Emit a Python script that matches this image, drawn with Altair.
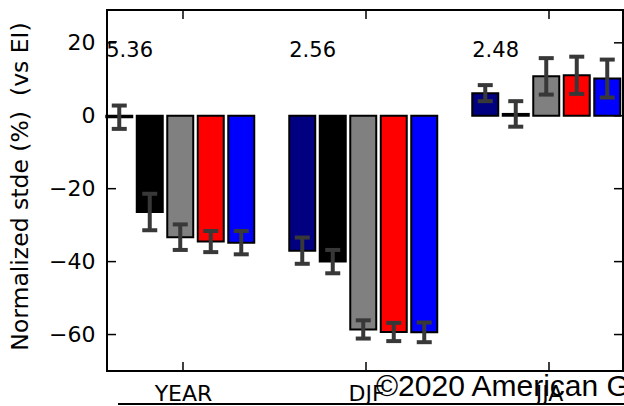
import altair as alt
import pandas as pd

# Seasons (groups) and the five experiments drawn in each group
groups = ["YEAR", "DJF", "JJA"]
series = ["s1", "s2", "s3", "s4", "s5"]
colors = ["#000080", "#000000", "#808080", "#ff0000", "#0000ff"]

# Normalized standard deviation error (%) relative to EI, per season
year_vals = [-0.4, -26.4, -33.3, -34.5, -34.8]
djf_vals = [-37.0, -40.0, -58.6, -59.3, -59.4]
jja_vals = [6.2, 0.5, 10.8, 11.1, 10.2]

# Half-width of the uncertainty bars
year_err = [3.2, 5.0, 3.5, 2.9, 3.2]
djf_err = [3.6, 3.2, 2.5, 2.5, 2.7]
jja_err = [2.2, 3.5, 5.0, 5.1, 5.2]

# Reference value printed above each group
ref_labels = ["5.36", "2.56", "2.48"]

y_ticks = [-60, -40, -20, 0, 20]

W, H = 516, 361
BAR_STEP = 1 / 6
BAR_HALF = 0.071
CAP_HALF = 0.041
SHIFT = -0.015
X_DOMAIN = [-0.4153, 2.4044]
Y_DOMAIN = [-70, 29]

vals = [year_vals, djf_vals, jja_vals]
errs = [year_err, djf_err, jja_err]
rows = []
for gi, g in enumerate(groups):
    for si, s in enumerate(series):
        c = gi + (si - 2) * BAR_STEP + SHIFT
        v = vals[gi][si]
        e = errs[gi][si]
        rows.append(dict(group=g, series=s, center=c, left=c - BAR_HALF,
                         right=c + BAR_HALF, cl=c - CAP_HALF, cr=c + CAP_HALF,
                         value=v, lo=v - e, hi=v + e))
df = pd.DataFrame(rows)

lab_df = pd.DataFrame({
    "text": ref_labels,
    "x": [gi - 2 * BAR_STEP + SHIFT - BAR_HALF for gi in range(len(groups))],
})
grp_df = pd.DataFrame({"pos": list(range(len(groups)))})
ytick_df = pd.DataFrame({"v": y_ticks})

xs = alt.Scale(domain=X_DOMAIN, nice=False, zero=False)
ys = alt.Scale(domain=Y_DOMAIN, nice=False, zero=False)

label_expr = "[" + ",".join(f"'{g}'" for g in groups) + "][datum.value]"
x_axis = alt.Axis(values=list(range(len(groups))), labelExpr=label_expr,
                  ticks=False, domain=False, grid=False, title=None,
                  labelFontSize=22, labelFont="DejaVu Sans", labelColor="black",
                  labelBaseline="alphabetic", labelPadding=29, labelFlush=False)
y_axis = alt.Axis(values=y_ticks, ticks=False, domain=False, grid=False,
                  labelFontSize=22, labelFont="DejaVu Sans", labelColor="black",
                  labelPadding=12,
                  title="Normalized stde (%)\u00a0\u00a0(vs EI)", titleFontSize=23.5,
                  titleFont="DejaVu Sans", titleFontWeight="normal",
                  titleColor="black", titleAngle=270, titleX=-87,
                  titleY=176, titleAlign="center", titleBaseline="middle")

bars = alt.Chart(df).mark_bar(stroke="black", strokeWidth=2).encode(
    x=alt.X("left:Q", scale=xs, axis=x_axis),
    x2="right:Q",
    y=alt.Y("value:Q", scale=ys, axis=y_axis),
    y2=alt.datum(0),
    fill=alt.Fill("series:N", scale=alt.Scale(domain=series, range=colors),
                  legend=None),
)

err_color = "#383838"
err_lines = alt.Chart(df).mark_rule(color=err_color, strokeWidth=4).encode(
    x="center:Q", y="lo:Q", y2="hi:Q")
cap_lo = alt.Chart(df).mark_rule(color=err_color, strokeWidth=4).encode(
    x="cl:Q", x2="cr:Q", y="lo:Q")
cap_hi = alt.Chart(df).mark_rule(color=err_color, strokeWidth=4).encode(
    x="cl:Q", x2="cr:Q", y="hi:Q")

labels = alt.Chart(lab_df).mark_text(
    align="left", baseline="alphabetic", fontSize=21, font="DejaVu Sans",
    color="black").encode(x="x:Q", y=alt.datum(16), text="text:N")

# inward ticks on all four sides
tick_top = alt.Chart(grp_df).mark_rule(color="black", strokeWidth=1.5).encode(
    x="pos:Q", y=alt.value(0), y2=alt.value(9))
tick_bot = alt.Chart(grp_df).mark_rule(color="black", strokeWidth=1.5).encode(
    x="pos:Q", y=alt.value(H), y2=alt.value(H - 9))
tick_left = alt.Chart(ytick_df).mark_rule(color="black", strokeWidth=1.5).encode(
    y="v:Q", x=alt.value(0), x2=alt.value(9))
tick_right = alt.Chart(ytick_df).mark_rule(color="black", strokeWidth=1.5).encode(
    y="v:Q", x=alt.value(W), x2=alt.value(W - 9))

underline = alt.Chart(grp_df).mark_rule(color="black", strokeWidth=2).encode(
    x=alt.value(11), x2=alt.value(530), y=alt.value(H + 33))

credit = alt.Chart(grp_df).transform_filter("datum.pos == 0").mark_text(
    align="left", baseline="alphabetic", fontSize=30, font="Liberation Sans",
    color="black").encode(x=alt.value(269), y=alt.value(H + 25),
                          text=alt.value("©2020 American Geophysical Union"))

chart = alt.layer(
    bars, err_lines, cap_lo, cap_hi, labels,
    tick_top, tick_bot, tick_left, tick_right, underline, credit,
).properties(
    width=W, height=H,
    autosize=alt.AutoSizeParams(type="none"),
    padding={"left": 107, "top": 10, "right": 1, "bottom": 35},
    background="white",
).configure_view(stroke="black", strokeWidth=2)

chart.save("out.html", embed_options={"renderer": "svg", "actions": False})
